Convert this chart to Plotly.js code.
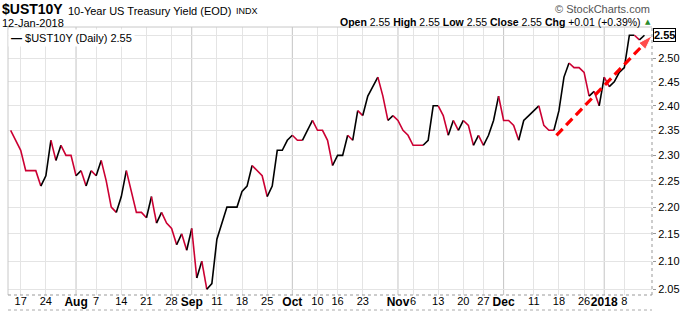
<!DOCTYPE html>
<html><head><meta charset="utf-8">
<script src="https://cdn.plot.ly/plotly-3.0.1.min.js"></script>
<style>html,body{margin:0;padding:0;background:#fff}#chart{width:695px;height:311px}</style>
</head><body><div id="chart"></div>
<script>
// ---- data ----
const dates = [
'2017-07-13','2017-07-14','2017-07-17','2017-07-18','2017-07-19','2017-07-20','2017-07-21','2017-07-24','2017-07-25','2017-07-26',
'2017-07-27','2017-07-28','2017-07-31','2017-08-01','2017-08-02','2017-08-03','2017-08-04','2017-08-07','2017-08-08','2017-08-09',
'2017-08-10','2017-08-11','2017-08-14','2017-08-15','2017-08-16','2017-08-17','2017-08-18','2017-08-21','2017-08-22','2017-08-23',
'2017-08-24','2017-08-25','2017-08-28','2017-08-29','2017-08-30','2017-08-31','2017-09-01','2017-09-05','2017-09-06','2017-09-07',
'2017-09-08','2017-09-11','2017-09-12','2017-09-13','2017-09-14','2017-09-15','2017-09-18','2017-09-19','2017-09-20','2017-09-21',
'2017-09-22','2017-09-25','2017-09-26','2017-09-27','2017-09-28','2017-09-29','2017-10-02','2017-10-03','2017-10-04','2017-10-05',
'2017-10-06','2017-10-10','2017-10-11','2017-10-12','2017-10-13','2017-10-16','2017-10-17','2017-10-18','2017-10-19','2017-10-20',
'2017-10-23','2017-10-24','2017-10-25','2017-10-26','2017-10-27','2017-10-30','2017-10-31','2017-11-01','2017-11-02','2017-11-03',
'2017-11-06','2017-11-07','2017-11-08','2017-11-09','2017-11-10','2017-11-13','2017-11-14','2017-11-15','2017-11-16','2017-11-17',
'2017-11-20','2017-11-21','2017-11-22','2017-11-24','2017-11-27','2017-11-28','2017-11-29','2017-11-30','2017-12-01','2017-12-04',
'2017-12-05','2017-12-06','2017-12-07','2017-12-08','2017-12-11','2017-12-12','2017-12-13','2017-12-14','2017-12-15','2017-12-18',
'2017-12-19','2017-12-20','2017-12-21','2017-12-22','2017-12-26','2017-12-27','2017-12-28','2017-12-29','2018-01-02','2018-01-03',
'2018-01-04','2018-01-05','2018-01-08','2018-01-09','2018-01-10','2018-01-11','2018-01-12'];
const yields = [
2.35,2.33,2.31,2.27,2.27,2.27,2.24,2.26,2.33,2.29,
2.32,2.30,2.30,2.26,2.27,2.24,2.27,2.26,2.29,2.25,
2.20,2.19,2.22,2.27,2.23,2.19,2.19,2.18,2.22,2.17,
2.19,2.17,2.16,2.13,2.15,2.12,2.16,2.07,2.10,2.05,
2.06,2.14,2.17,2.20,2.20,2.20,2.23,2.24,2.28,2.27,
2.26,2.22,2.24,2.31,2.31,2.33,2.34,2.33,2.33,2.35,
2.37,2.35,2.35,2.33,2.28,2.30,2.30,2.34,2.33,2.39,
2.38,2.42,2.44,2.46,2.42,2.37,2.38,2.37,2.35,2.34,
2.32,2.32,2.32,2.33,2.40,2.40,2.38,2.34,2.37,2.35,
2.37,2.36,2.32,2.34,2.32,2.34,2.37,2.42,2.37,2.37,
2.36,2.33,2.37,2.38,2.39,2.40,2.36,2.35,2.35,2.39,
2.46,2.49,2.48,2.48,2.47,2.42,2.43,2.40,2.46,2.44,
2.45,2.47,2.48,2.55,2.55,2.54,2.55];
const dayTickDates = ['2017-07-17','2017-07-24','2017-08-07','2017-08-14','2017-08-21','2017-08-28',
'2017-09-11','2017-09-18','2017-09-25','2017-10-10','2017-10-16','2017-10-23','2017-11-06',
'2017-11-13','2017-11-20','2017-11-27','2017-12-11','2017-12-18','2017-12-26','2018-01-08'];
const dayTickText = ['17','24','7','14','21','28','11','18','25','10','16','23','6','13','20','27','11','18','26','8'];
const monthDates = ['2017-08-01','2017-09-01','2017-10-02','2017-11-01','2017-12-01','2018-01-02'];
const monthText = ['Aug','Sep','Oct','Nov','Dec','2018'];
const yTicks = [2.05,2.10,2.15,2.20,2.25,2.30,2.35,2.40,2.45,2.50,2.55];
const yTickText = ['2.05','2.10','2.15','2.20','2.25','2.30','2.35','2.40','2.45','2.50',''];
const trendFrom = {date:'2017-12-18', dayShift:-0.5, value:2.34};
const trendTo = {date:'2018-01-12', dayShift:1.5, value:2.549};

// ---- layout geometry (pixels) ----
const W=695, H=311, PL=8, PR=651.7, PT=27, PB=295;
const px = x => (x-PL)/(PR-PL);
const py = y => (PB-y)/(PB-PT);
const UP='#000000', DOWN='#cc0033';
const FONT='"Liberation Sans", Arial, sans-serif';

const idx = d => dates.indexOf(d);
const xs = dates.map((d,i)=>i);
const XR=[-0.526,127.5];

// colour runs: black when up, red when down, flat keeps previous colour
const traces=[];
let prev=UP, run=null;
for(let i=1;i<yields.length;i++){
  const c = yields[i]>yields[i-1]?UP:(yields[i]<yields[i-1]?DOWN:prev);
  if(!run||run.c!==c){run={c:c,x:[xs[i-1]],y:[yields[i-1]],t:[dates[i-1]]};traces.push(run);}
  run.x.push(xs[i]);run.y.push(yields[i]);run.t.push(dates[i]);
  prev=c;
}
const data = traces.map(r=>({type:'scatter',mode:'lines',x:r.x,y:r.y,text:r.t,
  line:{color:r.c,width:1.6},hoverinfo:'text+y',showlegend:false}));

// invisible carrier for the month-label axis
data.push({type:'scatter',mode:'markers',xaxis:'x2',yaxis:'y',x:monthDates.map(idx),
  y:monthDates.map(d=>yields[idx(d)]),marker:{opacity:0,size:1},hoverinfo:'skip',showlegend:false});

// trend arrow
data.push({type:'scatter',mode:'lines+markers',
  x:[idx(trendFrom.date)+trendFrom.dayShift, idx(trendTo.date)+trendTo.dayShift],
  y:[trendFrom.value, trendTo.value],
  line:{color:'#ff0000',width:3.2,dash:'9px,5px'},
  marker:{symbol:['circle','arrow'],size:[0,15],color:'#ff0000',angleref:'previous'},
  cliponaxis:false,hoverinfo:'skip',showlegend:false});

const last=yields[yields.length-1], prevClose=yields[yields.length-2];
const chg=last-prevClose, pct=chg/prevClose*100;
const f2=v=>v.toFixed(2);

const shapes=[];
monthDates.forEach(d=>shapes.push({type:'line',layer:'between',xref:'x',yref:'paper',x0:idx(d),x1:idx(d),y0:0,y1:1,
  line:{color:'#c4c4c4',width:1}}));
shapes.push({type:'line',xref:'paper',yref:'paper',x0:0,x1:1,y0:1,y1:1,line:{color:'#c8c8c8',width:1}});
shapes.push({type:'line',xref:'paper',yref:'paper',x0:0,x1:0,y0:0,y1:1,line:{color:'#c8c8c8',width:1}});
shapes.push({type:'line',xref:'paper',yref:'paper',x0:1,x1:1,y0:0,y1:1,line:{color:'#999',width:1,dash:'dot'}});
shapes.push({type:'line',xref:'paper',yref:'paper',x0:0,x1:1,y0:0,y1:0,line:{color:'#999',width:1,dash:'dot'}});
shapes.push({type:'line',xref:'paper',yref:'paper',x0:0,x1:1,y0:py(310),y1:py(310),line:{color:'#aaa',width:1,dash:'dot'}});

const ann=[
 {xref:'paper',yref:'paper',x:px(0),y:py(9.5),xanchor:'left',yanchor:'middle',showarrow:false,
  text:'<b>$UST10Y</b>',font:{family:FONT,size:14,color:'#000'}},
 {xref:'paper',yref:'paper',x:px(66),y:py(10.5),xanchor:'left',yanchor:'middle',showarrow:false,
  text:'10-Year US Treasury Yield (EOD)',font:{family:FONT,size:11,color:'#000'}},
 {xref:'paper',yref:'paper',x:px(234),y:py(10.5),xanchor:'left',yanchor:'middle',showarrow:false,
  text:'INDX',font:{family:FONT,size:9,color:'#000'}},
 {xref:'paper',yref:'paper',x:px(0),y:py(23),xanchor:'left',yanchor:'middle',showarrow:false,
  text:'12-Jan-2018',font:{family:FONT,size:11,color:'#000'}},
 {xref:'paper',yref:'paper',x:px(652),y:py(9),xanchor:'right',yanchor:'middle',showarrow:false,
  text:'© StockCharts.com',font:{family:FONT,size:11,color:'#555'}},
 {xref:'paper',yref:'paper',x:px(643),y:py(22),xanchor:'right',yanchor:'middle',showarrow:false,
  text:'<b>Open</b> '+f2(last)+' <b>High</b> '+f2(last)+' <b>Low</b> '+f2(last)+' <b>Close</b> '+f2(last)+
       ' <b>Chg</b> '+(chg>=0?'+':'')+f2(chg)+' ('+(chg>=0?'+':'')+f2(pct)+'%)',
  font:{family:FONT,size:10.5,color:'#000'}},
 {xref:'paper',yref:'paper',x:px(648),y:py(22),xanchor:'center',yanchor:'middle',showarrow:false,
  text:'▲',font:{family:'DejaVu Sans',size:7,color:'#2a8a2a'}},
 {xref:'paper',yref:'paper',x:px(8),y:py(38),xanchor:'left',yanchor:'middle',showarrow:false,
  text:'<b>—</b> $UST10Y (Daily) '+f2(last),bgcolor:'#ffffff',borderpad:2,
  font:{family:FONT,size:11,color:'#000'}},
 {xref:'paper',yref:'y',x:1,y:Math.log10(last),xanchor:'left',yanchor:'middle',xshift:1,showarrow:false,
  text:'<b>'+f2(last)+'</b>',bgcolor:'#ffffff',bordercolor:'#000',borderwidth:1,borderpad:0,
  font:{family:FONT,size:11,color:'#000'}}
];

const layout={
  width:W,height:H,margin:{l:PL,r:W-PR,t:PT,b:H-PB,pad:0},
  paper_bgcolor:'#fff',plot_bgcolor:'#fff',font:{family:FONT,size:11,color:'#000'},
  showlegend:false,
  xaxis:{type:'linear',range:XR,tickmode:'array',tickvals:dayTickDates.map(idx),ticktext:dayTickText,
    showgrid:true,gridcolor:'#e4e4e4',gridwidth:1,zeroline:false,showline:false,ticks:'',ticklabelstandoff:-2,
    tickfont:{family:FONT,size:11,color:'#000'},automargin:false,fixedrange:true},
  xaxis2:{type:'linear',overlaying:'x',anchor:'y',side:'bottom',range:XR,tickmode:'array',
    tickvals:monthDates.map(idx),ticktext:monthText,showgrid:false,zeroline:false,showline:false,ticks:'',
    ticklabelstandoff:-2,tickfont:{family:FONT,size:12,color:'#000',weight:'bold'},automargin:false,fixedrange:true},
  yaxis:{type:'log',side:'right',range:[0.30962,0.40962],tickmode:'array',tickvals:yTicks,ticktext:yTickText,
    showgrid:true,gridcolor:'#e4e4e4',zeroline:false,showline:false,ticks:'outside',ticklen:3,tickcolor:'#999',
    tickfont:{family:FONT,size:11,color:'#000'},automargin:false,fixedrange:true},
  shapes:shapes,annotations:ann
};
Plotly.newPlot('chart',data,layout,{displayModeBar:false,staticPlot:true});
</script></body></html>
